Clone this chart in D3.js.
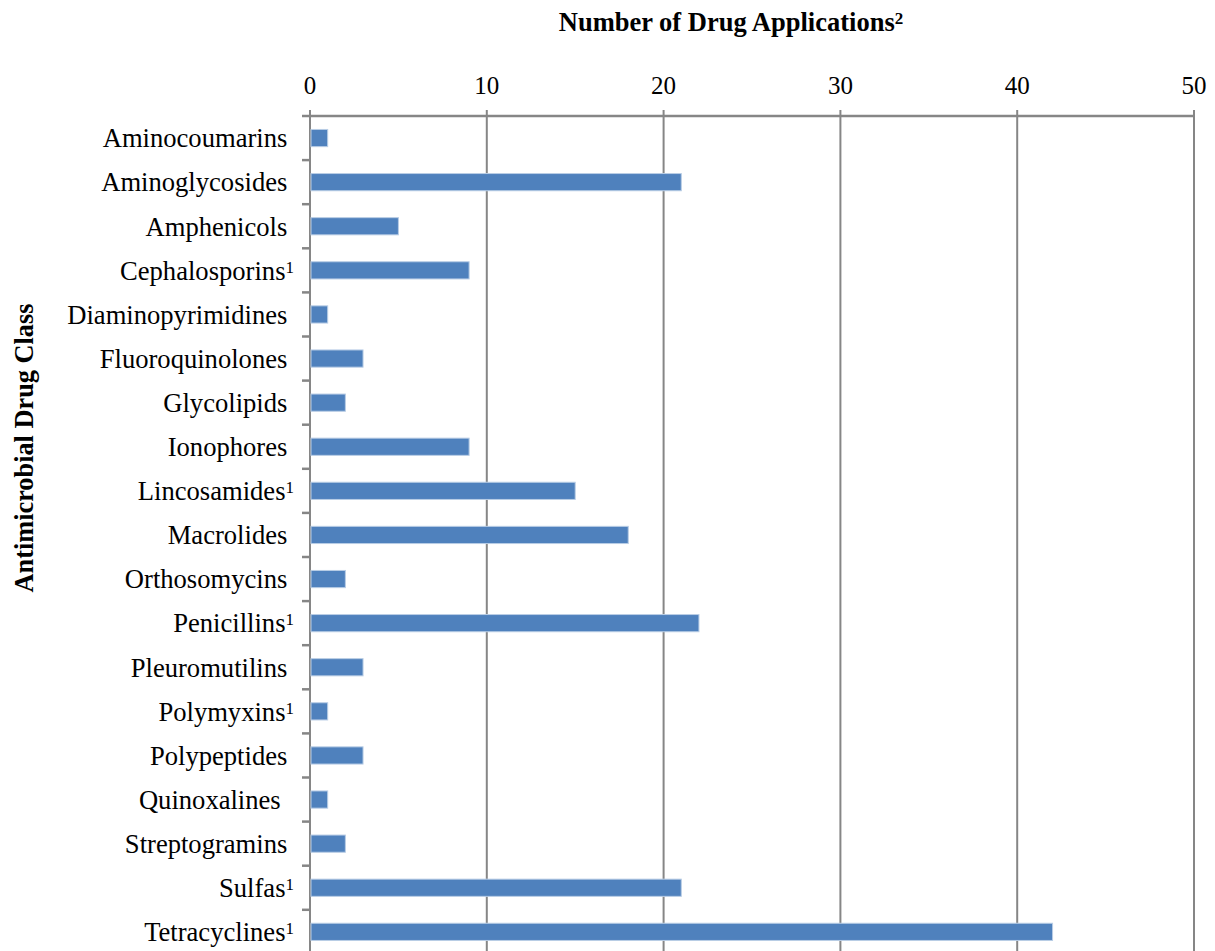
<!DOCTYPE html>
<html lang="en">
<head>
  <meta charset="UTF-8">
  <title>Number of Drug Applications by Antimicrobial Drug Class</title>
  <script src="https://d3js.org/d3.v7.min.js"></script>
  <style>
    body {
      margin: 0;
      background: #fff;
    }
    svg {
      display: block;
      font-family: "Liberation Serif", "Times New Roman", serif;
    }
  </style>
</head>
<body>
  <svg></svg>
  <script>
    // data
    const classes = [
      "Aminocoumarins", "Aminoglycosides", "Amphenicols", "Cephalosporins",
      "Diaminopyrimidines", "Fluoroquinolones", "Glycolipids", "Ionophores",
      "Lincosamides", "Macrolides", "Orthosomycins", "Penicillins",
      "Pleuromutilins", "Polymyxins", "Polypeptides", "Quinoxalines",
      "Streptogramins", "Sulfas", "Tetracyclines"
    ];
    const applications = [1, 21, 5, 9, 1, 3, 2, 9, 15, 18, 2, 22, 3, 1, 3, 1, 2, 21, 42];
    // classes carrying footnote 1
    const footnoted = ["Cephalosporins", "Lincosamides", "Penicillins", "Polymyxins", "Sulfas", "Tetracyclines"];
    const xTicks = [0, 10, 20, 30, 40, 50];

    const rows = classes.map((c, i) => ({ name: c, value: applications[i] }));

    const width = 1215, height = 951;
    const plotLeft = 310, plotRight = 1194, plotTop = 116;
    const step = 44.1;

    const svg = d3.select("svg")
      .attr("width", width)
      .attr("height", height);

    const x = d3.scaleLinear().domain([0, 50]).range([plotLeft, plotRight]);
    const y = d3.scaleBand()
      .domain(classes)
      .range([plotTop, plotTop + step * classes.length])
      .paddingInner(0.61)
      .paddingOuter(0.305);

    const gridColor = "#868686";

    // vertical gridlines (also the top tick marks)
    svg.append("g")
      .selectAll("line")
      .data(xTicks)
      .join("line")
      .attr("x1", d => x(d))
      .attr("x2", d => x(d))
      .attr("y1", plotTop - 6)
      .attr("y2", height)
      .attr("stroke", gridColor)
      .attr("stroke-width", 2);

    // top axis line
    svg.append("line")
      .attr("x1", plotLeft - 8)
      .attr("x2", plotRight)
      .attr("y1", plotTop)
      .attr("y2", plotTop)
      .attr("stroke", gridColor)
      .attr("stroke-width", 2.5);

    // top tick labels
    svg.append("g")
      .selectAll("text")
      .data(xTicks)
      .join("text")
      .attr("x", d => x(d))
      .attr("y", 94)
      .attr("text-anchor", "middle")
      .style("font-size", "25px")
      .text(d => d);

    // left category tick marks between bands
    svg.append("g")
      .selectAll("line")
      .data(d3.range(1, classes.length + 1))
      .join("line")
      .attr("x1", plotLeft - 8)
      .attr("x2", plotLeft)
      .attr("y1", k => plotTop + step * k)
      .attr("y2", k => plotTop + step * k)
      .attr("stroke", gridColor)
      .attr("stroke-width", 2.5);

    // bars
    svg.append("g")
      .selectAll("rect")
      .data(rows)
      .join("rect")
      .attr("x", x(0) + 1)
      .attr("y", d => y(d.name))
      .attr("width", d => x(d.value) - x(0) - 1)
      .attr("height", y.bandwidth())
      .attr("fill", "#4f81bd")
      .attr("stroke", "#b9cde5")
      .attr("stroke-width", 1);

    // category labels
    const lab = svg.append("g")
      .selectAll("text")
      .data(rows)
      .join("text")
      .attr("x", 294)
      .attr("y", d => y(d.name) + y.bandwidth() / 2)
      .attr("dy", "0.35em")
      .attr("text-anchor", "end")
      .style("font-size", "26.6px")
      .style("white-space", "pre");

    lab.append("tspan")
      .text(d => {
        if (footnoted.includes(d.name)) return d.name;
        return d.name === "Quinoxalines" ? d.name + "\u00a0\u00a0" : d.name + "\u00a0";
      });
    lab.filter(d => footnoted.includes(d.name))
      .append("tspan")
      .attr("dy", "-0.42em")
      .style("font-size", "17px")
      .text("1");

    // x axis title
    const title = svg.append("text")
      .attr("x", 731)
      .attr("y", 31)
      .attr("text-anchor", "middle")
      .style("font-size", "26.5px")
      .style("font-weight", "bold");
    title.append("tspan").text("Number of Drug Applications");
    title.append("tspan")
      .attr("dy", "-0.4em")
      .style("font-size", "17px")
      .text("2");

    // y axis title
    svg.append("text")
      .attr("transform", "translate(33,448) rotate(-90)")
      .attr("text-anchor", "middle")
      .style("font-size", "26.3px")
      .style("font-weight", "bold")
      .text("Antimicrobial Drug Class");
  </script>
</body>
</html>
